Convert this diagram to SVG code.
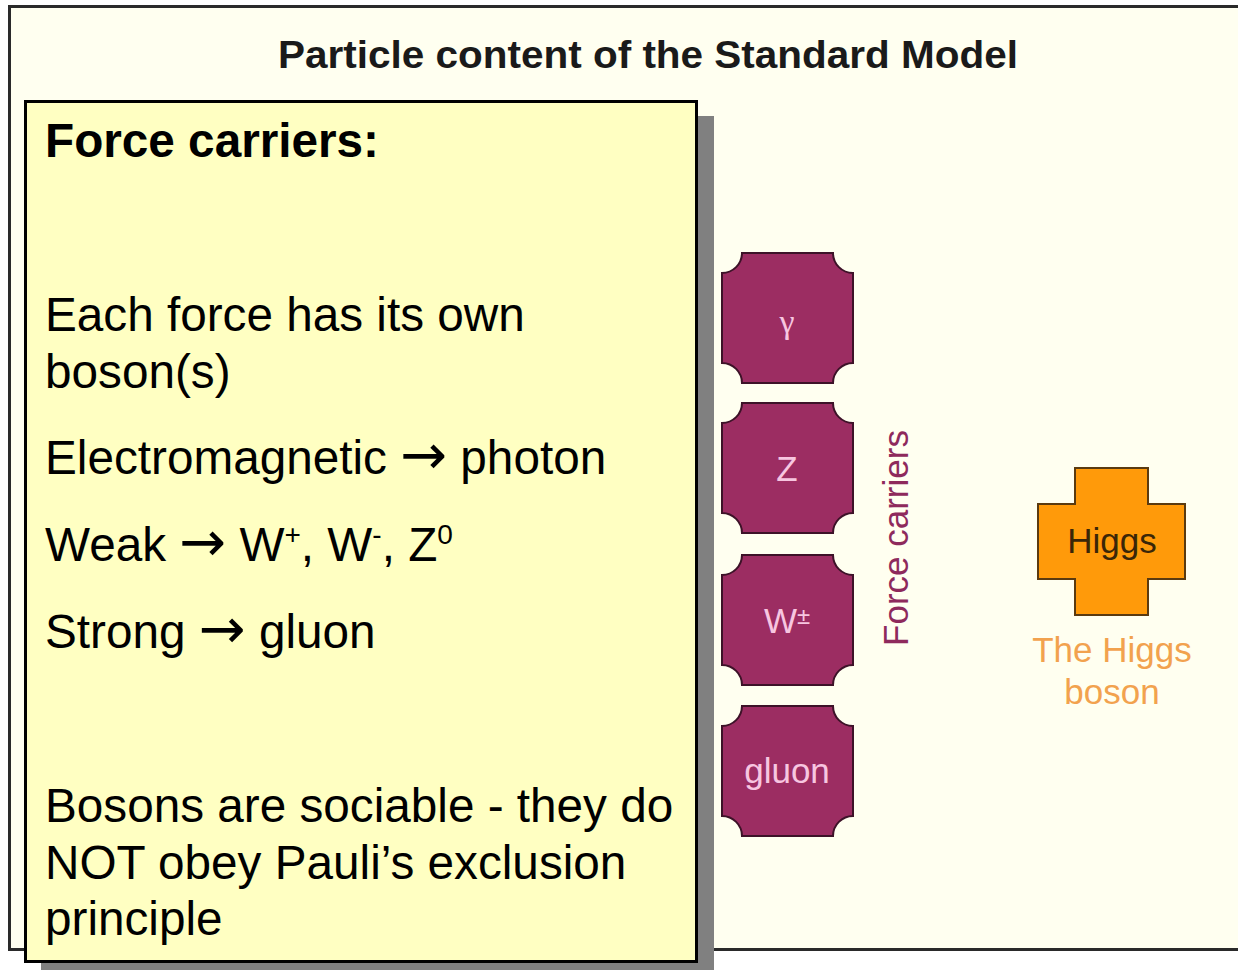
<svg xmlns="http://www.w3.org/2000/svg" width="1238" height="970" viewBox="0 0 1238 970">
<style>
.frame{fill:#fffff0;stroke:#2a2a2a;stroke-width:3}
.title{font-family:"Liberation Sans",Arial,sans-serif;font-weight:bold;font-size:38px;fill:#1a1a1a}
.box{fill:#ffffc2;stroke:#000;stroke-width:3}
.shadow{fill:#808080}
.body{font-family:"Liberation Sans",Arial,sans-serif;font-size:47.7px;fill:#000}
.arr{font-family:"DejaVu Sans",sans-serif;font-size:56px}
.sup{font-size:28px}
.tile{fill:#9c2d62;stroke:#3d1228;stroke-width:2}
.tiletxt{font-family:"Liberation Sans",Arial,sans-serif;font-size:35px;fill:#f7c6e0;text-anchor:middle}
.gamma{font-family:"Liberation Serif","DejaVu Serif",serif;font-size:34px}
.fc{font-family:"Liberation Sans",Arial,sans-serif;font-size:35px;fill:#8e2a5c;text-anchor:middle}
.higgs{fill:#ff9a0a;stroke:#5a3a10;stroke-width:2}
.higgstxt{font-family:"Liberation Sans",Arial,sans-serif;font-size:35px;fill:#3a2608;text-anchor:middle}
.higgslbl{font-family:"Liberation Sans",Arial,sans-serif;font-size:35px;fill:#f2a24e;text-anchor:middle}
</style>
<defs>
<path id="tileShape" d="M20,0 H111 A20 20 0 0 0 131,20 V110 A20 20 0 0 0 111,130 H20 A20 20 0 0 0 0,110 V20 A20 20 0 0 0 20,0 Z"/>
</defs>
<rect width="1238" height="970" fill="#ffffff"/>
<rect class="frame" x="9.5" y="6.5" width="1240" height="943"/>
<text class="title" x="648" y="68" text-anchor="middle" textLength="740" lengthAdjust="spacingAndGlyphs">Particle content of the Standard Model</text>

<g id="textbox">
<rect class="shadow" x="41" y="116" width="673" height="870"/>
<rect class="box" x="25.5" y="101.5" width="671" height="860"/>
<text class="body" x="45" y="157" font-weight="bold">Force carriers:</text>
<text class="body" x="45" y="331">Each force has its own</text>
<text class="body" x="45" y="388">boson(s)</text>
<text class="body" x="45" y="474">Electromagnetic <tspan class="arr">→</tspan> photon</text>
<text class="body" x="45" y="561">Weak <tspan class="arr">→</tspan> W<tspan class="sup" dy="-17">+</tspan><tspan dy="17">, W</tspan><tspan class="sup" dy="-17">-</tspan><tspan dy="17">, Z</tspan><tspan class="sup" dy="-17">0</tspan></text>
<text class="body" x="45" y="648">Strong <tspan class="arr">→</tspan> gluon</text>
<text class="body" x="45" y="822">Bosons are sociable - they do</text>
<text class="body" x="45" y="879">NOT obey Pauli’s exclusion</text>
<text class="body" x="45" y="935">principle</text>
</g>

<g id="photon">
<use href="#tileShape" class="tile" x="722" y="253"/>
<text class="tiletxt gamma" x="787" y="333">γ</text>
</g>
<g id="zboson">
<use href="#tileShape" class="tile" x="722" y="403"/>
<text class="tiletxt" x="787" y="481">Z</text>
</g>
<g id="wboson">
<use href="#tileShape" class="tile" x="722" y="555"/>
<text class="tiletxt" x="787" y="633">W<tspan font-size="24" dy="-9">±</tspan></text>
</g>
<g id="gluon">
<use href="#tileShape" class="tile" x="722" y="706"/>
<text class="tiletxt" x="787" y="783">gluon</text>
</g>

<g id="forcecarrierslabel">
<text class="fc" transform="translate(908,538) rotate(-90)">Force carriers</text>
</g>

<g id="higgs">
<path class="higgs" d="M1075,468 H1148 V504 H1185 V579 H1148 V615 H1075 V579 H1038 V504 H1075 Z"/>
<text class="higgstxt" x="1112" y="553">Higgs</text>
<text class="higgslbl" x="1112" y="662">The Higgs</text>
<text class="higgslbl" x="1112" y="704">boson</text>
</g>

<g id="connectors"></g>
</svg>
